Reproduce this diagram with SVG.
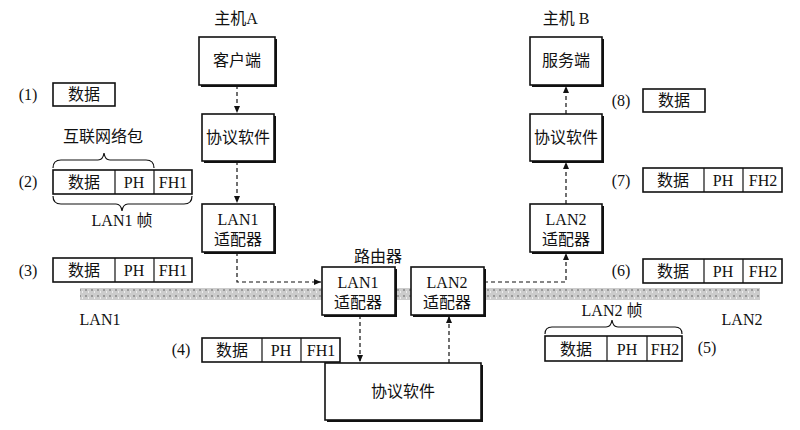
<svg xmlns="http://www.w3.org/2000/svg" width="800" height="430" viewBox="0 0 800 430">
<defs>
<style>
.b{fill:#fff;stroke:#111;stroke-width:1.6}
.s{fill:#111}
.t{font-family:"Liberation Serif","Noto Sans CJK SC",serif;font-size:16px;fill:#111;text-anchor:middle}
.c{stroke:#111;stroke-width:1.2;fill:none;stroke-dasharray:4,3}
.br{stroke:#111;stroke-width:1.2;fill:none}
</style>
<marker id="a" markerWidth="8" markerHeight="8" refX="7" refY="4" orient="auto" markerUnits="userSpaceOnUse"><path d="M0,1 L7,4 L0,7 Z" fill="#111"/></marker>
<pattern id="g" width="6" height="6" patternUnits="userSpaceOnUse"><rect width="6" height="6" fill="#ccc"/><rect x="1" y="1" width="2" height="2" fill="#999"/><rect x="4" y="3" width="1" height="2" fill="#eee"/></pattern>
</defs>
<rect x="80" y="288" width="680" height="12" fill="url(#g)"/>
<text class="t" x="100" y="325">LAN1</text>
<text class="t" x="742" y="325">LAN2</text>
<g id="connectors">
<line class="c" x1="237" y1="85" x2="237" y2="113" marker-end="url(#a)"/>
<line class="c" x1="237" y1="161" x2="237" y2="203" marker-end="url(#a)"/>
<polyline class="c" points="237,252 237,282 321,282" marker-end="url(#a)"/>
<line class="c" x1="360" y1="315" x2="360" y2="362" marker-end="url(#a)"/>
<line class="c" x1="449" y1="363" x2="449" y2="316" marker-end="url(#a)"/>
<polyline class="c" points="484,282 566,282 566,253" marker-end="url(#a)"/>
<line class="c" x1="566" y1="204" x2="566" y2="162" marker-end="url(#a)"/>
<line class="c" x1="566" y1="114" x2="566" y2="86" marker-end="url(#a)"/>
</g>
<g id="hostA">
<text class="t" x="236" y="24">主机A</text>
<g id="clientA"><rect class="s" x="201" y="39" width="76" height="48"/><rect class="b" x="199" y="37" width="76" height="48"/><text class="t" x="237" y="66">客户端</text></g>
<g id="protoA"><rect class="s" x="204" y="116" width="72" height="47"/><rect class="b" x="202" y="114" width="72" height="47"/><text class="t" x="238" y="143">协议软件</text></g>
<g id="lan1A"><rect class="s" x="204" y="206" width="72" height="48"/><rect class="b" x="202" y="204" width="72" height="48"/><text class="t" x="238" y="225">LAN1</text><text class="t" x="238" y="245">适配器</text></g>
</g>
<g id="router">
<text class="t" x="378" y="262">路由器</text>
<g id="r1"><rect class="s" x="324" y="269" width="73" height="48"/><rect class="b" x="322" y="267" width="73" height="48"/><text class="t" x="358" y="288">LAN1</text><text class="t" x="358" y="308">适配器</text></g>
<g id="r2"><rect class="s" x="413" y="269" width="73" height="48"/><rect class="b" x="411" y="267" width="73" height="48"/><text class="t" x="447" y="288">LAN2</text><text class="t" x="447" y="308">适配器</text></g>
<g id="rp"><rect class="s" x="327" y="365" width="156" height="57"/><rect class="b" x="325" y="363" width="156" height="57"/><text class="t" x="403" y="397">协议软件</text></g>
</g>
<g id="hostB">
<text class="t" x="566" y="24">主机 B</text>
<g id="server"><rect class="s" x="532" y="39" width="72" height="48"/><rect class="b" x="530" y="37" width="72" height="48"/><text class="t" x="566" y="66">服务端</text></g>
<g id="protoB"><rect class="s" x="532" y="116" width="72" height="47"/><rect class="b" x="530" y="114" width="72" height="47"/><text class="t" x="566" y="143">协议软件</text></g>
<g id="lan2B"><rect class="s" x="532" y="206" width="72" height="48"/><rect class="b" x="530" y="204" width="72" height="48"/><text class="t" x="566" y="225">LAN2</text><text class="t" x="566" y="245">适配器</text></g>
</g>
<g id="p1"><text class="t" x="28" y="100">(1)</text><rect class="b" x="53" y="83" width="62" height="23"/><text class="t" x="84" y="100">数据</text></g>
<g id="p2"><text class="t" x="103" y="142">互联网络包</text>
<path class="br" d="M53,168 Q53,160 61,160 L98,160 Q103,160 104,153 Q105,160 110,160 L146,160 Q154,160 154,168"/>
<text class="t" x="28" y="187">(2)</text><rect class="b" x="53" y="170" width="139" height="24"/><line class="br" x1="115" y1="170" x2="115" y2="194"/><line class="br" x1="154" y1="170" x2="154" y2="194"/>
<text class="t" x="84" y="188">数据</text><text class="t" x="134" y="188">PH</text><text class="t" x="173" y="188">FH1</text>
<path class="br" d="M53,196 Q53,204 61,204 L116,204 Q121,204 122,211 Q123,204 128,204 L184,204 Q192,204 192,196"/>
<text class="t" x="122" y="226">LAN1 帧</text></g>
<g id="p3"><text class="t" x="28" y="276">(3)</text><rect class="b" x="53" y="258" width="139" height="24"/><line class="br" x1="115" y1="258" x2="115" y2="282"/><line class="br" x1="154" y1="258" x2="154" y2="282"/>
<text class="t" x="84" y="276">数据</text><text class="t" x="134" y="276">PH</text><text class="t" x="173" y="276">FH1</text></g>
<g id="p4"><text class="t" x="181" y="355">(4)</text><rect class="b" x="202" y="338" width="138" height="24"/><line class="br" x1="262" y1="338" x2="262" y2="362"/><line class="br" x1="301" y1="338" x2="301" y2="362"/>
<text class="t" x="232" y="356">数据</text><text class="t" x="281" y="356">PH</text><text class="t" x="321" y="356">FH1</text></g>
<g id="p5"><text class="t" x="612" y="316">LAN2 帧</text>
<path class="br" d="M545,334 Q545,327 552,327 L606,327 Q611,327 612,320 Q613,327 618,327 L675,327 Q682,327 682,334"/>
<rect class="b" x="545" y="336" width="137" height="25"/><line class="br" x1="607" y1="336" x2="607" y2="361"/><line class="br" x1="647" y1="336" x2="647" y2="361"/>
<text class="t" x="576" y="355">数据</text><text class="t" x="627" y="355">PH</text><text class="t" x="665" y="355">FH2</text><text class="t" x="707" y="353">(5)</text></g>
<g id="p6"><text class="t" x="621" y="276">(6)</text><rect class="b" x="643" y="259" width="139" height="24"/><line class="br" x1="704" y1="259" x2="704" y2="283"/><line class="br" x1="743" y1="259" x2="743" y2="283"/>
<text class="t" x="673" y="277">数据</text><text class="t" x="723" y="277">PH</text><text class="t" x="763" y="277">FH2</text></g>
<g id="p7"><text class="t" x="621" y="186">(7)</text><rect class="b" x="643" y="168" width="139" height="24"/><line class="br" x1="704" y1="168" x2="704" y2="192"/><line class="br" x1="743" y1="168" x2="743" y2="192"/>
<text class="t" x="673" y="186">数据</text><text class="t" x="723" y="186">PH</text><text class="t" x="763" y="186">FH2</text></g>
<g id="p8"><text class="t" x="621" y="106">(8)</text><rect class="b" x="643" y="89" width="62" height="23"/><text class="t" x="674" y="106">数据</text></g>
</svg>
